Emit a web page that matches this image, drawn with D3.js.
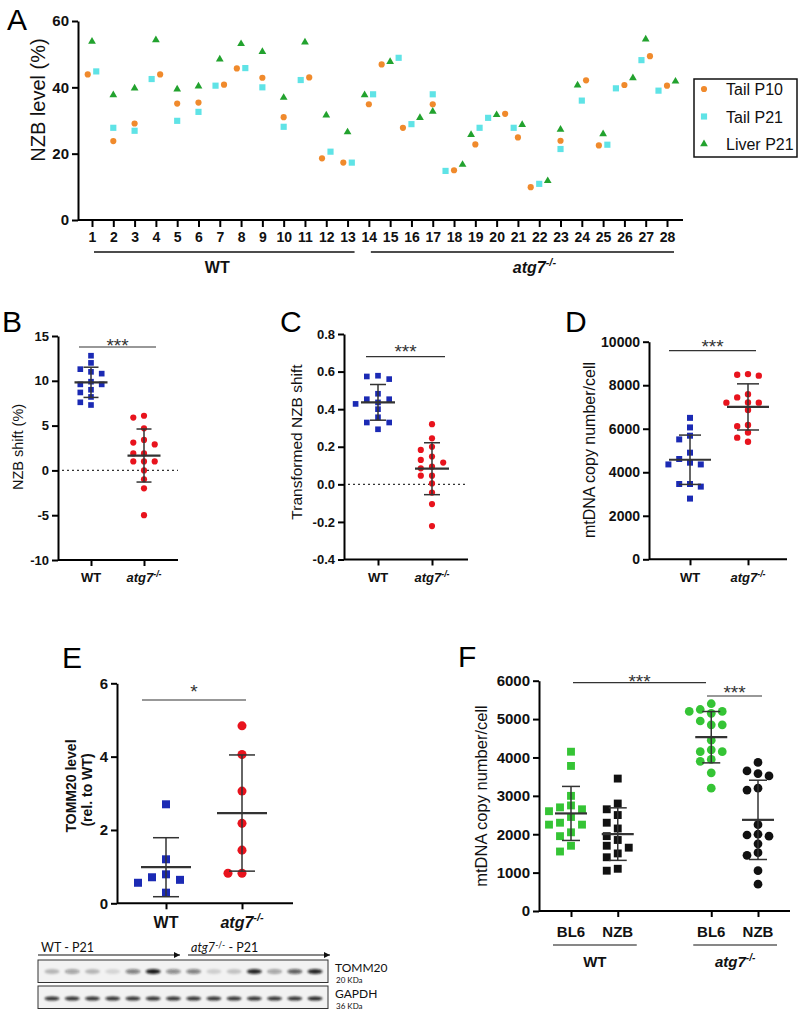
<!DOCTYPE html>
<html>
<head>
<meta charset="utf-8">
<script src="https://cdn.jsdelivr.net/npm/d3@7"></script>
<style>
  body { margin: 0; background: #fff; }
  svg { display: block; }
</style>
</head>
<body>
<svg width="800" height="1013"></svg>
<script>
const svg = d3.select('svg');
const font = '"Liberation Sans", Arial, sans-serif';

// ---------- data ----------
// Panel A: NZB level (%) per animal
const animals = ['1','2','3','4','5','6','7','8','9','10','11','12','13','14',
                 '15','16','17','18','19','20','21','22','23','24','25','26','27','28'];
const tailP10  = [43.9, 23.8, 29.1, 43.9, 35.1, 35.4, 40.8, 45.7, 42.9, 31.0, 43.0, 18.6, 17.3, 34.9,
                  46.9, 27.8, 34.9, 15.0, 22.8, 32.0, 24.9, 9.9, 23.9, 42.1, 22.5, 40.7, 49.4, 40.5];
const tailP21  = [44.8, 27.8, 26.9, 42.5, 29.9, 32.6, 40.5, 45.8, 40.0, 28.1, 42.2, 20.6, 17.3, 37.9,
                  48.9, 28.9, 37.9, 14.8, 27.8, 30.8, 27.8, 10.9, 21.4, 36.0, 22.7, 39.7, 48.2, 39.0];
const liverP21 = [53.8, 37.7, 39.7, 54.3, 39.4, 40.3, 48.5, 53.1, 50.7, 36.9, 53.6, 31.6, 26.5, 37.7,
                  47.7, 30.8, 32.7, 16.7, 25.7, 31.7, 28.7, 11.8, 27.3, 40.6, 25.9, 42.8, 54.5, 41.8];
const ticksA = [0, 20, 40, 60];

// Panels B-E: WT vs atg7-/-
const groups = ['WT', 'atg7'];
const shiftWT = [12.8, 12.0, 11.3, 11.0, 10.8, 9.9, 9.6, 9.6, 9.0, 8.7, 8.2, 7.6, 7.3];
const shiftKO = [6.1, 5.9, 4.7, 3.4, 3.1, 2.9, 1.9, 1.9, 1.0, 1.0, 1.0, 0, -1.0, -2.0, -5.0];
const ticksB = [-10, -5, 0, 5, 10, 15];

const transWT = [0.578, 0.574, 0.56, 0.482, 0.453, 0.453, 0.436, 0.428, 0.40, 0.357, 0.329, 0.329, 0.293];
const transKO = [0.32, 0.245, 0.20, 0.183, 0.148, 0.13, 0.116, 0.094, 0.085, 0.046, 0.046, 0.005, -0.044, -0.105, -0.222];
const ticksC = [-0.4, -0.2, 0, 0.2, 0.4, 0.6, 0.8];

const copyWT = [6500, 6060, 5680, 5510, 4900, 4610, 4440, 4360, 4360, 3460, 3460, 3340, 2790];
const copyKO = [8510, 8480, 8440, 7590, 7440, 7210, 7200, 7200, 6860, 6170, 6120, 5830, 5590, 5400];
const ticksD = [0, 2000, 4000, 6000, 8000, 10000];

const tommWT = [2.7, 1.2, 0.79, 0.71, 0.64, 0.56, 0.29];
const tommKO = [4.84, 4.06, 3.06, 2.18, 1.45, 0.82, 0.82];
const ticksE = [0, 2, 4, 6];

// Panel F: BL6 / NZB mtDNA copies
const slotsF = ['WT BL6', 'WT NZB', 'gap', 'KO BL6', 'KO NZB'];
const wtBL6 = [4150, 3780, 3000, 2750, 2700, 2650, 2600, 2450, 2300, 2250, 2250, 2050, 1950, 1700, 1550];
const wtNZB = [3450, 2800, 2650, 2500, 2300, 2150, 1950, 1850, 1700, 1650, 1500, 1400, 1100, 1050];
const koBL6 = [5400, 5250, 5200, 5200, 5150, 4950, 4850, 4850, 4450, 4200, 4150, 4150, 3950, 3900, 3600, 3200];
const koNZB = [3870, 3650, 3580, 3520, 3200, 3150, 2250, 2000, 1980, 1950, 1750, 1520, 1450, 1050, 700];
const ticksF = [0, 1000, 2000, 3000, 4000, 5000, 6000];

// Western blot band intensities (0-1), 14 lanes
const blotTOMM20 = [0.25, 0.35, 0.25, 0.12, 0.5, 0.95, 0.45, 0.5, 0.15, 0.2, 0.9, 0.35, 0.65, 0.9];
const blotGAPDH  = [0.85, 0.85, 0.85, 0.85, 0.85, 0.85, 0.85, 0.85, 0.85, 0.85, 0.85, 0.85, 0.85, 0.9];

// colours
const orange = '#f08a2c', cyan = '#5fe3e6', greenA = '#22a22e';
const blue = '#1b2ab4', red = '#e8131d', greenF = '#35c435', black = '#111';

// ---------- helpers ----------
function styleAxis(ax, size) {
  ax.select('.domain').attr('stroke-width', 2).attr('stroke', '#000');
  ax.selectAll('.tick line').attr('stroke-width', 2).attr('stroke', '#000');
  ax.selectAll('text').attr('font-size', size).attr('font-weight', 'bold')
    .attr('font-family', font).attr('fill', '#111');
}

// column based swarm (GraphPad-like)
function swarm(vals, y, step, gap) {
  const placed = [], dx = [];
  const order = vals.map((v, i) => i).sort((a, b) => vals[b] - vals[a]);
  const cands = [0, -1, 1, -2, 2, -3, 3];
  order.forEach(i => {
    const py = y(vals[i]);
    const c = cands.find(c => !placed.some(p => p.c === c && Math.abs(p.y - py) < gap));
    placed.push({ c, y: py });
    dx[i] = c * step;
  });
  return dx;
}

function catLabel(g, text, x, y, size) {
  const t = g.append('text').attr('x', x).attr('y', y).attr('text-anchor', 'middle')
    .attr('font-size', size).attr('font-weight', 'bold').attr('font-family', font).attr('fill', '#111');
  if (text === 'atg7') {
    t.append('tspan').attr('font-style', 'italic').text('atg7');
    t.append('tspan').attr('font-style', 'italic').attr('font-size', size * 0.68)
      .attr('dy', -size * 0.42).text('-/-');
  } else t.text(text);
}

function yTitle(g, text, x, y, size, weight) {
  g.append('text').attr('transform', `translate(${x},${y}) rotate(-90)`)
    .attr('text-anchor', 'middle').attr('font-size', size).attr('font-family', font)
    .attr('font-weight', weight || 'normal').attr('fill', '#111').text(text);
}

function panelLetter(t, x, y) {
  svg.append('text').attr('x', x).attr('y', y).attr('font-size', 30)
    .attr('font-family', font).attr('fill', '#000').text(t);
}

function sigBar(g, x1, x2, y, stars, dy) {
  g.append('line').attr('x1', x1).attr('x2', x2).attr('y1', y).attr('y2', y)
    .attr('stroke', '#333').attr('stroke-width', 1.2);
  g.append('text').attr('x', (x1 + x2) / 2).attr('y', y + (dy === undefined ? 3 : dy)).attr('text-anchor', 'middle')
    .attr('font-size', 19).attr('font-family', font).attr('fill', '#333').text(stars);
}

// dot plot with mean +/- SD
function dotPanel(c) {
  const g = svg.append('g');
  const y = d3.scaleLinear().domain(c.domain).range(c.range);
  const x = d3.scalePoint().domain(c.slots).range(c.xr);
  const base = c.range[0];

  const ya = g.append('g').attr('transform', `translate(${c.ax},0)`)
    .call(d3.axisLeft(y).tickValues(c.ticks).tickFormat(c.fmt).tickSize(6).tickPadding(3).tickSizeOuter(0));
  styleAxis(ya, c.tickFont);

  g.append('line').attr('x1', c.ax).attr('x2', c.xEnd).attr('y1', base).attr('y2', base)
    .attr('stroke', '#000').attr('stroke-width', 2);
  const xa = g.append('g').attr('transform', `translate(0,${base})`)
    .call(d3.axisBottom(x).tickValues(c.sets.map(s => s.key)).tickSize(6).tickFormat(''));
  xa.select('.domain').remove();
  xa.selectAll('.tick line').attr('stroke-width', 2).attr('stroke', '#000');

  if (c.zero) {
    g.append('line').attr('x1', c.ax + 4).attr('x2', c.xEnd).attr('y1', y(0)).attr('y2', y(0))
      .attr('stroke', '#333').attr('stroke-width', 1.3).attr('stroke-dasharray', '2,3');
  }

  c.sets.forEach(s => {
    const dx = swarm(s.vals, y, c.step, c.gap);
    g.append('g').selectAll('path').data(s.vals).join('path')
      .attr('d', d3.symbol(s.shape, s.size))
      .attr('transform', (d, i) => `translate(${x(s.key) + dx[i]},${y(d)})`)
      .attr('fill', s.color);
  });

  c.sets.forEach(s => {
    const cx = x(s.key), m = d3.mean(s.vals), sd = d3.deviation(s.vals);
    const eb = g.append('g').attr('stroke', '#333');
    eb.append('line').attr('x1', cx).attr('x2', cx).attr('y1', y(m + sd)).attr('y2', y(m - sd)).attr('stroke-width', 1.5);
    [m + sd, m - sd].forEach(v => eb.append('line').attr('x1', cx - c.cap).attr('x2', cx + c.cap)
      .attr('y1', y(v)).attr('y2', y(v)).attr('stroke-width', 1.5));
    eb.append('line').attr('x1', cx - c.half).attr('x2', cx + c.half)
      .attr('y1', y(m)).attr('y2', y(m)).attr('stroke-width', 2.2);
  });

  return { g, x, y };
}

// ---------- panel A ----------
const gA = svg.append('g');
const xA = d3.scalePoint().domain(animals).range([92, 667]);
const yA = d3.scaleLinear().domain([0, 60]).range([220, 21]);
const seriesA = [
  { name: 'Tail P10',  vals: tailP10,  shape: d3.symbolCircle,   size: 30, color: orange },
  { name: 'Tail P21',  vals: tailP21,  shape: d3.symbolSquare,   size: 38, color: cyan },
  { name: 'Liver P21', vals: liverP21, shape: d3.symbolTriangle, size: 26, color: greenA }
];

// side-by-side dodge of overlapping points within one animal
const ptsA = [];
animals.forEach((a, i) => {
  const pts = seriesA.map((s, k) => ({ s, k, v: s.vals[i] })).sort((p, q) => p.v - q.v);
  let cluster = [pts[0]];
  const flush = () => cluster.forEach((p, j) => { p.dx = (j - (cluster.length - 1) / 2) * 8.5; });
  for (let k = 1; k < pts.length; k++) {
    if (yA(pts[k - 1].v) - yA(pts[k].v) < 7) cluster.push(pts[k]);
    else { flush(); cluster = [pts[k]]; }
  }
  flush();
  pts.forEach(p => ptsA.push({ a, ...p }));
});
ptsA.sort((p, q) => p.k - q.k);

const yaA = gA.append('g').attr('transform', 'translate(78,0)')
  .call(d3.axisLeft(yA).tickValues(ticksA).tickSize(6).tickPadding(3).tickSizeOuter(0));
styleAxis(yaA, 15);
gA.append('line').attr('x1', 78).attr('x2', 683).attr('y1', 220).attr('y2', 220)
  .attr('stroke', '#000').attr('stroke-width', 2);
const xaA = gA.append('g').attr('transform', 'translate(0,220)')
  .call(d3.axisBottom(xA).tickSize(7).tickPadding(5));
xaA.select('.domain').remove();
styleAxis(xaA, 14);

gA.append('g').selectAll('path').data(ptsA).join('path')
  .attr('d', p => d3.symbol(p.s.shape, p.s.size)())
  .attr('transform', p => `translate(${xA(p.a) + p.dx},${yA(p.v)})`)
  .attr('fill', p => p.s.color);

yTitle(gA, 'NZB level (%)', 45, 100, 20);

// group underlines
[[animals[0], animals[12], 'WT', -7], [animals[13], animals[27], 'atg7', 12]].forEach(([a, b, lab, shift]) => {
  const x1 = xA(a) + 2, x2 = xA(b) + 7;
  gA.append('line').attr('x1', x1).attr('x2', x2).attr('y1', 252).attr('y2', 252)
    .attr('stroke', '#111').attr('stroke-width', 1.5);
  catLabel(gA, lab, (x1 + x2) / 2 + shift, 273, 16);
});

// legend
const leg = gA.append('g').attr('transform', 'translate(694,79)');
leg.append('rect').attr('width', 103).attr('height', 78).attr('fill', 'none')
  .attr('stroke', '#111').attr('stroke-width', 1.5);
seriesA.forEach((s, i) => {
  const ly = 10 + i * 27.5;
  leg.append('path').attr('d', d3.symbol(s.shape, s.size)()).attr('transform', `translate(10,${ly})`).attr('fill', s.color);
  leg.append('text').attr('x', 32).attr('y', ly + 6).attr('font-size', 16)
    .attr('font-family', font).attr('fill', '#111').text(s.name);
});
panelLetter('A', 7, 30);

// ---------- panel B ----------
const pB = dotPanel({
  domain: [-10, 15], range: [560, 336], ax: 58, xEnd: 178, slots: groups, xr: [91, 144],
  ticks: ticksB, fmt: d => String(d), tickFont: 13, zero: true, step: 10.7, gap: 6.5, half: 16.5, cap: 7.5,
  sets: [
    { key: 'WT', vals: shiftWT, shape: d3.symbolSquare, size: 32, color: blue },
    { key: 'atg7', vals: shiftKO, shape: d3.symbolCircle, size: 30, color: red }
  ]
});
sigBar(pB.g, 79, 156, 347, '***', 4.5);
groups.forEach(k => catLabel(pB.g, k, pB.x(k), 582, 13));
yTitle(pB.g, 'NZB shift (%)', 23, 447, 14.5);
panelLetter('B', 2, 332);

// ---------- panel C ----------
const pC = dotPanel({
  domain: [-0.4, 0.8], range: [559.5, 334], ax: 344, xEnd: 468, slots: groups, xr: [378, 432],
  ticks: ticksC, fmt: d => d.toFixed(1), tickFont: 13, zero: true, step: 11.2, gap: 6.5, half: 17, cap: 8,
  sets: [
    { key: 'WT', vals: transWT, shape: d3.symbolSquare, size: 32, color: blue },
    { key: 'atg7', vals: transKO, shape: d3.symbolCircle, size: 30, color: red }
  ]
});
sigBar(pC.g, 366, 445, 356.7, '***', 1.5);
groups.forEach(k => catLabel(pC.g, k, pC.x(k), 582, 13));
yTitle(pC.g, 'Transformed NZB shift', 302, 442, 15.5);
panelLetter('C', 280, 332);

// ---------- panel D ----------
const pD = dotPanel({
  domain: [0, 10000], range: [559.3, 341.7], ax: 649, xEnd: 787, slots: groups, xr: [690, 748],
  ticks: ticksD, fmt: d => String(d), tickFont: 14, zero: false, step: 10.8, gap: 6.8, half: 21, cap: 11,
  sets: [
    { key: 'WT', vals: copyWT, shape: d3.symbolSquare, size: 36, color: blue },
    { key: 'atg7', vals: copyKO, shape: d3.symbolCircle, size: 32, color: red }
  ]
});
sigBar(pD.g, 669, 756, 350.7, '***', 1.8);
groups.forEach(k => catLabel(pD.g, k, pD.x(k), 582, 13));
yTitle(pD.g, 'mtDNA copy number/cell', 595, 450, 16);
panelLetter('D', 565, 332);

// ---------- panel E ----------
const pE = dotPanel({
  domain: [0, 6], range: [903.3, 683.3], ax: 117, xEnd: 293, slots: groups, xr: [166, 242],
  ticks: ticksE, fmt: d => String(d), tickFont: 15, zero: false, step: 14, gap: 9.5, half: 25, cap: 13,
  sets: [
    { key: 'WT', vals: tommWT, shape: d3.symbolSquare, size: 64, color: blue },
    { key: 'atg7', vals: tommKO, shape: d3.symbolCircle, size: 64, color: red }
  ]
});
sigBar(pE.g, 142, 246, 700, '*', -2);
groups.forEach(k => catLabel(pE.g, k, pE.x(k), 928, 16));
yTitle(pE.g, 'TOMM20 level', 76, 786, 14, 'bold');
yTitle(pE.g, '(rel. to WT)', 92, 790, 14, 'bold');
panelLetter('E', 62, 668);

// ---------- western blot ----------
const gW = svg.append('g');
const defs = svg.append('defs');
defs.append('filter').attr('id', 'blur').attr('x', '-50%').attr('y', '-100%').attr('width', '200%').attr('height', '300%')
  .append('feGaussianBlur').attr('stdDeviation', 1.2);
defs.append('marker').attr('id', 'arr').attr('viewBox', '0 0 6 6').attr('refX', 6).attr('refY', 3)
  .attr('markerWidth', 6).attr('markerHeight', 6).attr('markerUnits', 'userSpaceOnUse').attr('orient', 'auto')
  .append('path').attr('d', 'M0,0L6,3L0,6Z').attr('fill', '#111');

const blotFont = 'Lato, "Open Sans", sans-serif';
const xLane = d3.scalePoint().domain(blotTOMM20.map((d, i) => i)).range([52, 315]);

[[38, 180, 'WT'], [188, 330, 'atg7']].forEach(([x1, x2, lab]) => {
  gW.append('line').attr('x1', x1).attr('x2', x2).attr('y1', 955).attr('y2', 955)
    .attr('stroke', '#111').attr('stroke-width', 1.2).attr('marker-end', 'url(#arr)');
  const t = gW.append('text').attr('x', x1 + 3).attr('y', 951.5).attr('font-size', 12.5)
    .attr('font-family', blotFont).attr('fill', '#111');
  if (lab === 'WT') t.text('WT - P21');
  else {
    t.append('tspan').attr('font-style', 'italic').text('atg7');
    t.append('tspan').attr('font-size', 8.5).attr('dy', -4).text('-/-');
    t.append('tspan').attr('dy', 4).text(' - P21');
  }
});

[[960, blotTOMM20, 971.5, 'TOMM20', '20 KDa', 2.4], [986, blotGAPDH, 998.5, 'GAPDH', '36 KDa', 2]].forEach(([top, vals, by, name, kda, ry]) => {
  gW.append('rect').attr('x', 38).attr('y', top).attr('width', 290).attr('height', 22.5)
    .attr('fill', '#f2f2f2').attr('stroke', '#333').attr('stroke-width', 1);
  gW.append('g').attr('filter', 'url(#blur)').selectAll('ellipse').data(vals).join('ellipse')
    .attr('cx', (d, i) => xLane(i)).attr('cy', by).attr('rx', 7.5).attr('ry', ry)
    .attr('fill', '#111').attr('fill-opacity', d => d);
  gW.append('text').attr('x', 335).attr('y', top + 12).attr('font-size', 12)
    .attr('font-family', blotFont).attr('fill', '#111').text(name);
  gW.append('text').attr('x', 336).attr('y', top + 23).attr('font-size', 8)
    .attr('font-family', blotFont).attr('fill', '#111').text(kda);
});

// ---------- panel F ----------
const pF = dotPanel({
  domain: [0, 6000], range: [911, 680.7], ax: 539, xEnd: 790, slots: slotsF, xr: [571, 758],
  ticks: ticksF, fmt: d => String(d), tickFont: 15, zero: false, step: 11, gap: 8.5, half: 16, cap: 9,
  sets: [
    { key: 'WT BL6', vals: wtBL6, shape: d3.symbolSquare, size: 62, color: greenF },
    { key: 'WT NZB', vals: wtNZB, shape: d3.symbolSquare, size: 62, color: black },
    { key: 'KO BL6', vals: koBL6, shape: d3.symbolCircle, size: 60, color: greenF },
    { key: 'KO NZB', vals: koNZB, shape: d3.symbolCircle, size: 60, color: black }
  ]
});
sigBar(pF.g, 573, 706, 682.7, '***', 5);
sigBar(pF.g, 707, 762, 696, '***', 3);
['WT BL6', 'WT NZB', 'KO BL6', 'KO NZB'].forEach(k => catLabel(pF.g, k.split(' ')[1], pF.x(k), 937, 15));
[['WT BL6', 'WT NZB', 'WT'], ['KO BL6', 'KO NZB', 'atg7']].forEach(([a, b, lab]) => {
  const x1 = pF.x(a) - 18, x2 = pF.x(b) + 19;
  pF.g.append('line').attr('x1', x1).attr('x2', x2).attr('y1', 945).attr('y2', 945)
    .attr('stroke', '#111').attr('stroke-width', 1.2);
  catLabel(pF.g, lab, (x1 + x2) / 2, 967, 15);
});
yTitle(pF.g, 'mtDNA copy number/cell', 487, 796, 16.5);
panelLetter('F', 458, 667);
</script>
</body>
</html>
